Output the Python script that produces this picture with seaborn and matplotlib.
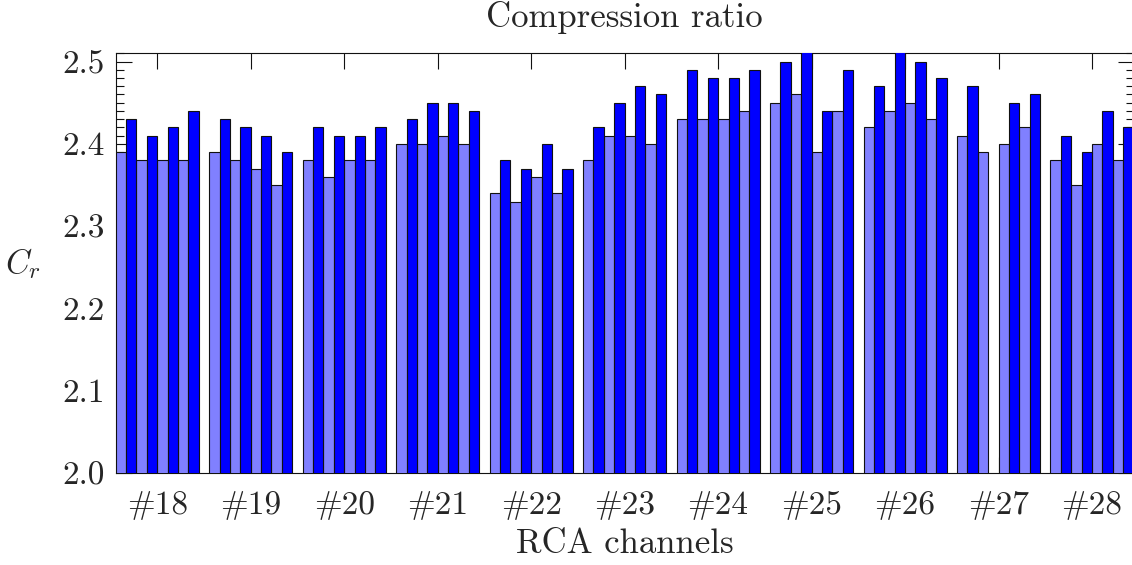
import numpy as np
import pandas as pd
import matplotlib
matplotlib.use('Agg')
import matplotlib.pyplot as plt
from matplotlib.ticker import MultipleLocator
import seaborn as sns

sns.set_style('ticks')
plt.rcParams['font.family'] = ['cmr10', 'DejaVu Serif']
plt.rcParams['mathtext.fontset'] = 'cm'
plt.rcParams['axes.unicode_minus'] = False
plt.rcParams['axes.formatter.use_mathtext'] = True

# RCA channels, 4 pairs of bars each
channels = ['#18', '#19', '#20', '#21', '#22', '#23', '#24', '#25', '#26', '#27', '#28']

# light bars (first of each pair)
light = [
    [2.39, 2.38, 2.38, 2.38],
    [2.39, 2.38, 2.37, 2.35],
    [2.38, 2.36, 2.38, 2.38],
    [2.40, 2.40, 2.41, 2.40],
    [2.34, 2.33, 2.36, 2.34],
    [2.38, 2.41, 2.41, 2.40],
    [2.43, 2.43, 2.43, 2.44],
    [2.45, 2.46, 2.39, 2.44],
    [2.42, 2.44, 2.45, 2.43],
    [2.41, 2.39, 2.40, 2.42],
    [2.38, 2.35, 2.40, 2.38],
]

# dark bars (second of each pair), nan = missing bar
dark = [
    [2.43, 2.41, 2.42, 2.44],
    [2.43, 2.42, 2.41, 2.39],
    [2.42, 2.41, 2.41, 2.42],
    [2.43, 2.45, 2.45, 2.44],
    [2.38, 2.37, 2.40, 2.37],
    [2.42, 2.45, 2.47, 2.46],
    [2.49, 2.48, 2.48, 2.49],
    [2.50, 2.52, 2.44, 2.49],
    [2.47, 2.52, 2.50, 2.48],
    [2.47, np.nan, 2.45, 2.46],
    [2.41, 2.39, 2.44, 2.42],
]

# build long table, one slot per bar, one empty slot between channels
rows = []
for g, ch in enumerate(channels):
    for k in range(4):
        rows.append({'pos': g * 9 + 2 * k, 'value': light[g][k], 'series': 'light'})
        rows.append({'pos': g * 9 + 2 * k + 1, 'value': dark[g][k], 'series': 'dark'})
df = pd.DataFrame(rows).dropna()

fig = plt.figure(figsize=(11.32, 5.65), dpi=100)
ax = fig.add_axes([0.1022, 0.1623, 0.8992, 0.7434])

sns.barplot(data=df, x='pos', y='value', hue='series', native_scale=True,
            dodge=False, width=1, errorbar=None, legend=False, saturation=1,
            palette={'light': '#8080ff', 'dark': '#0000ff'},
            edgecolor='#111111', linewidth=0.8, ax=ax, zorder=3)

ax.set_xlim(-0.5, 97.5)
ax.set_ylim(2.0, 2.51)

ax.set_xticks([g * 9 + 3.5 for g in range(len(channels))])
ax.set_xticklabels(channels, fontsize=24)
ax.set_yticks([2.0, 2.1, 2.2, 2.3, 2.4, 2.5])
ax.set_yticklabels(['2.0', '2.1', '2.2', '2.3', '2.4', '2.5'], fontsize=24)
ax.yaxis.set_minor_locator(MultipleLocator(0.01))
ax.tick_params(axis='both', which='major', direction='in', top=True, right=True,
               length=11.5, width=0.8, color='#111111')
ax.tick_params(axis='x', which='major', pad=13)
ax.tick_params(axis='y', which='major', pad=8)
ax.tick_params(axis='y', which='minor', direction='in', left=True, right=True,
               length=6, width=0.8, color='#111111')
ax.tick_params(axis='x', which='minor', bottom=False, top=False)

for s in ax.spines.values():
    s.set_linewidth(0.8)
    s.set_color('#111111')

ax.set_xlabel('RCA channels', fontsize=25, labelpad=6)
ax.set_ylabel('$C_r$', fontsize=24, rotation=0, labelpad=28, va='center')
ax.set_title('Compression ratio', fontsize=25, pad=19)

plt.savefig('out.png', dpi=100)
